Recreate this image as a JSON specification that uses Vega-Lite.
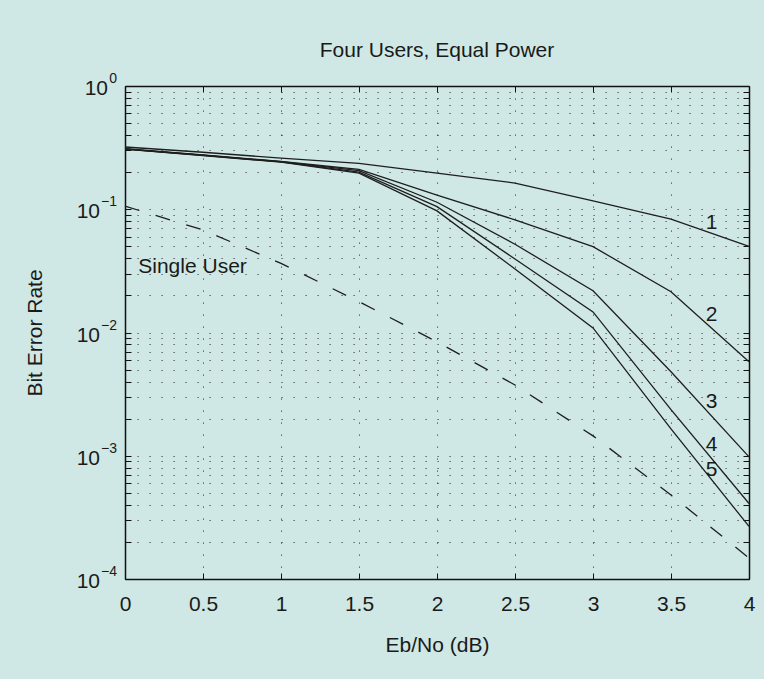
{
  "$schema": "https://vega.github.io/schema/vega-lite/v6.json",
  "width": 624,
  "height": 493,
  "autosize": {"type": "none"},
  "padding": {"left": 125, "top": 86, "right": 15, "bottom": 100},
  "background": "#cfe8e5",
  "title": {"text": "Four Users, Equal Power", "fontSize": 21, "font": "Liberation Sans", "fontWeight": "normal", "color": "#1a1a1a", "offset": 11, "anchor": "middle"},
  "datasets": {
    "curves": [
      {"series": "1", "x": 0, "y": 0.32}, {"series": "1", "x": 0.5, "y": 0.29}, {"series": "1", "x": 1, "y": 0.26}, {"series": "1", "x": 1.5, "y": 0.236}, {"series": "1", "x": 2, "y": 0.196}, {"series": "1", "x": 2.5, "y": 0.163}, {"series": "1", "x": 3, "y": 0.117}, {"series": "1", "x": 3.5, "y": 0.083}, {"series": "1", "x": 4, "y": 0.05},
      {"series": "2", "x": 0, "y": 0.31}, {"series": "2", "x": 0.5, "y": 0.276}, {"series": "2", "x": 1, "y": 0.244}, {"series": "2", "x": 1.5, "y": 0.211}, {"series": "2", "x": 2, "y": 0.13}, {"series": "2", "x": 2.5, "y": 0.082}, {"series": "2", "x": 3, "y": 0.0497}, {"series": "2", "x": 3.5, "y": 0.0214}, {"series": "2", "x": 4, "y": 0.0058},
      {"series": "3", "x": 0, "y": 0.309}, {"series": "3", "x": 0.5, "y": 0.275}, {"series": "3", "x": 1, "y": 0.243}, {"series": "3", "x": 1.5, "y": 0.206}, {"series": "3", "x": 2, "y": 0.114}, {"series": "3", "x": 2.5, "y": 0.052}, {"series": "3", "x": 3, "y": 0.0218}, {"series": "3", "x": 3.5, "y": 0.0048}, {"series": "3", "x": 4, "y": 0.00098},
      {"series": "4", "x": 0, "y": 0.308}, {"series": "4", "x": 0.5, "y": 0.274}, {"series": "4", "x": 1, "y": 0.242}, {"series": "4", "x": 1.5, "y": 0.2}, {"series": "4", "x": 2, "y": 0.105}, {"series": "4", "x": 2.5, "y": 0.0395}, {"series": "4", "x": 3, "y": 0.0147}, {"series": "4", "x": 3.5, "y": 0.00237}, {"series": "4", "x": 4, "y": 0.00041},
      {"series": "5", "x": 0, "y": 0.307}, {"series": "5", "x": 0.5, "y": 0.273}, {"series": "5", "x": 1, "y": 0.241}, {"series": "5", "x": 1.5, "y": 0.196}, {"series": "5", "x": 2, "y": 0.097}, {"series": "5", "x": 2.5, "y": 0.0328}, {"series": "5", "x": 3, "y": 0.0109}, {"series": "5", "x": 3.5, "y": 0.00165}, {"series": "5", "x": 4, "y": 0.000267}
    ],
    "single": [
      {"x": 0, "y": 0.106}, {"x": 0.5, "y": 0.068}, {"x": 1, "y": 0.0364}, {"x": 1.5, "y": 0.0178}, {"x": 2, "y": 0.0084}, {"x": 2.5, "y": 0.00375}, {"x": 3, "y": 0.00145}, {"x": 3.5, "y": 0.00048}, {"x": 4, "y": 0.000148}
    ],
    "labels": [
      {"label": "1", "x": 3.76, "y": 0.077},
      {"label": "2", "x": 3.76, "y": 0.0139},
      {"label": "3", "x": 3.76, "y": 0.00275},
      {"label": "4", "x": 3.76, "y": 0.00122},
      {"label": "5", "x": 3.76, "y": 0.000766}
    ],
    "single_label": [
      {"label": "Single User", "x": 0.085, "y": 0.034}
    ],
    "decade_zero": [
      {"y": 1, "base": "10"}
    ],
    "decade_neg": [
      {"y": 0.1, "base": "10"},
      {"y": 0.01, "base": "10"},
      {"y": 0.001, "base": "10"},
      {"y": 0.0001, "base": "10"}
    ],
    "decades": [
      {"y": 1, "exp": "0"},
      {"y": 0.1, "exp": "−1"},
      {"y": 0.01, "exp": "−2"},
      {"y": 0.001, "exp": "−3"},
      {"y": 0.0001, "exp": "−4"}
    ]
  },
  "layer": [
    {
      "data": {"name": "curves"},
      "mark": {"type": "line", "color": "#1e1e1e", "strokeWidth": 1.3},
      "encoding": {
        "x": {"field": "x", "type": "quantitative", "scale": {"domain": [0, 4], "nice": false},
          "axis": {"orient": "bottom", "values": [0, 0.5, 1, 1.5, 2, 2.5, 3, 3.5, 4], "title": "Eb/No (dB)", "grid": true, "labelPadding": 20, "titlePadding": 20, "format": "~g"}},
        "y": {"field": "y", "type": "quantitative", "scale": {"type": "log", "domain": [0.0001, 1], "nice": false},
          "axis": {"orient": "left", "title": "Bit Error Rate", "grid": true, "labels": false, "titlePadding": 79,
            "values": [0.0001, 0.0002, 0.0003, 0.0004, 0.0005, 0.0006, 0.0007, 0.0008, 0.0009, 0.001, 0.002, 0.003, 0.004, 0.005, 0.006, 0.007, 0.008, 0.009, 0.01, 0.02, 0.03, 0.04, 0.05, 0.06, 0.07, 0.08, 0.09, 0.1, 0.2, 0.3, 0.4, 0.5, 0.6, 0.7, 0.8, 0.9, 1]}},
        "detail": {"field": "series", "type": "nominal"}
      }
    },
    {
      "data": {"name": "single"},
      "mark": {"type": "line", "color": "#1e1e1e", "strokeWidth": 1.3, "strokeDash": [15, 17]},
      "encoding": {
        "x": {"field": "x", "type": "quantitative", "scale": {"domain": [0, 4], "nice": false},
          "axis": {"orient": "top", "values": [0, 0.5, 1, 1.5, 2, 2.5, 3, 3.5, 4], "labels": false, "title": null, "grid": false}},
        "y": {"field": "y", "type": "quantitative", "scale": {"type": "log", "domain": [0.0001, 1], "nice": false},
          "axis": {"orient": "right", "labels": false, "title": null, "grid": false,
            "values": [0.0001, 0.0002, 0.0003, 0.0004, 0.0005, 0.0006, 0.0007, 0.0008, 0.0009, 0.001, 0.002, 0.003, 0.004, 0.005, 0.006, 0.007, 0.008, 0.009, 0.01, 0.02, 0.03, 0.04, 0.05, 0.06, 0.07, 0.08, 0.09, 0.1, 0.2, 0.3, 0.4, 0.5, 0.6, 0.7, 0.8, 0.9, 1]}}
      }
    },
    {
      "data": {"name": "labels"},
      "mark": {"type": "text", "fontSize": 21, "font": "Liberation Sans", "color": "#1a1a1a", "align": "center", "baseline": "middle"},
      "encoding": {
        "x": {"field": "x", "type": "quantitative", "axis": null},
        "y": {"field": "y", "type": "quantitative", "axis": null},
        "text": {"field": "label"}
      }
    },
    {
      "data": {"name": "single_label"},
      "mark": {"type": "text", "fontSize": 21, "font": "Liberation Sans", "color": "#1a1a1a", "align": "left", "baseline": "middle"},
      "encoding": {
        "x": {"field": "x", "type": "quantitative", "axis": null},
        "y": {"field": "y", "type": "quantitative", "axis": null},
        "text": {"field": "label"}
      }
    },
    {
      "data": {"name": "decade_zero"},
      "mark": {"type": "text", "fontSize": 21, "font": "Liberation Sans", "color": "#1a1a1a", "align": "right", "baseline": "middle", "dx": -17, "dy": 3, "clip": false},
      "encoding": {
        "x": {"datum": 0, "type": "quantitative", "axis": null},
        "y": {"field": "y", "type": "quantitative", "axis": null},
        "text": {"field": "base"}
      }
    },
    {
      "data": {"name": "decade_neg"},
      "mark": {"type": "text", "fontSize": 21, "font": "Liberation Sans", "color": "#1a1a1a", "align": "right", "baseline": "middle", "dx": -25, "dy": 3, "clip": false},
      "encoding": {
        "x": {"datum": 0, "type": "quantitative", "axis": null},
        "y": {"field": "y", "type": "quantitative", "axis": null},
        "text": {"field": "base"}
      }
    },
    {
      "data": {"name": "decades"},
      "mark": {"type": "text", "fontSize": 14, "font": "Liberation Sans", "color": "#1a1a1a", "align": "right", "baseline": "middle", "dx": -8, "dy": -7, "clip": false},
      "encoding": {
        "x": {"datum": 0, "type": "quantitative", "axis": null},
        "y": {"field": "y", "type": "quantitative", "axis": null},
        "text": {"field": "exp"}
      }
    }
  ],
  "resolve": {"axis": {"x": "independent", "y": "independent"}},
  "config": {
    "view": {"stroke": null},
    "font": "Liberation Sans",
    "axis": {
      "domainColor": "#111111",
      "domainWidth": 1.5,
      "tickColor": "#111111",
      "tickSize": -6,
      "tickWidth": 1,
      "labelFont": "Liberation Sans",
      "labelFontSize": 21,
      "labelColor": "#1a1a1a",
      "labelOverlap": false,
      "labelFlush": false,
      "titleFont": "Liberation Sans",
      "titleFontSize": 21,
      "titleFontWeight": "normal",
      "titleColor": "#1a1a1a",
      "gridColor": "#333333",
      "gridDash": [1.2, 10.8],
      "gridWidth": 1,
      "gridOpacity": 0.9
    }
  }
}
